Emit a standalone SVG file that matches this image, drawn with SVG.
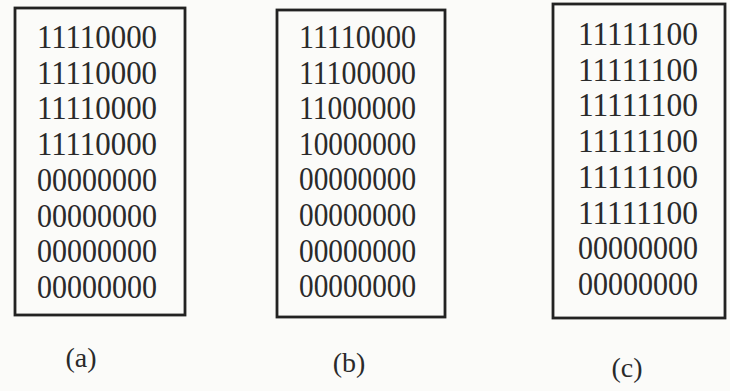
<svg xmlns="http://www.w3.org/2000/svg" width="730" height="391" viewBox="0 0 730 391">
<style>
.box{fill:none;stroke:#222;stroke-width:2.8}
.t{font-family:"Liberation Serif","Times New Roman",serif;font-size:33px;fill:#2a2a2a}
.lbl{font-family:"Liberation Serif","Times New Roman",serif;font-size:28px;fill:#2a2a2a;text-anchor:middle}
</style>
<rect width="730" height="391" fill="#fbfbf9"/>
<g id="matrix-a">
<rect class="box" x="15" y="8" width="170" height="307"/>
<text class="t" x="37" y="48" textLength="120" lengthAdjust="spacingAndGlyphs">11110000</text>
<text class="t" x="37" y="83.7" textLength="120" lengthAdjust="spacingAndGlyphs">11110000</text>
<text class="t" x="37" y="119.4" textLength="120" lengthAdjust="spacingAndGlyphs">11110000</text>
<text class="t" x="37" y="155.1" textLength="120" lengthAdjust="spacingAndGlyphs">11110000</text>
<text class="t" x="37" y="190.8" textLength="120" lengthAdjust="spacingAndGlyphs">00000000</text>
<text class="t" x="37" y="226.5" textLength="120" lengthAdjust="spacingAndGlyphs">00000000</text>
<text class="t" x="37" y="262.2" textLength="120" lengthAdjust="spacingAndGlyphs">00000000</text>
<text class="t" x="37" y="298" textLength="120" lengthAdjust="spacingAndGlyphs">00000000</text>
<text class="lbl" x="81" y="367">(a)</text>
</g>
<g id="matrix-b">
<rect class="box" x="277" y="10" width="168" height="307"/>
<text class="t" x="299" y="48" textLength="117" lengthAdjust="spacingAndGlyphs">11110000</text>
<text class="t" x="299" y="83.6" textLength="117" lengthAdjust="spacingAndGlyphs">11100000</text>
<text class="t" x="299" y="119.2" textLength="117" lengthAdjust="spacingAndGlyphs">11000000</text>
<text class="t" x="299" y="154.8" textLength="117" lengthAdjust="spacingAndGlyphs">10000000</text>
<text class="t" x="299" y="190.4" textLength="117" lengthAdjust="spacingAndGlyphs">00000000</text>
<text class="t" x="299" y="226" textLength="117" lengthAdjust="spacingAndGlyphs">00000000</text>
<text class="t" x="299" y="261.6" textLength="117" lengthAdjust="spacingAndGlyphs">00000000</text>
<text class="t" x="299" y="297" textLength="117" lengthAdjust="spacingAndGlyphs">00000000</text>
<text class="lbl" x="349" y="372">(b)</text>
</g>
<g id="matrix-c">
<rect class="box" x="553" y="4" width="172" height="314"/>
<text class="t" x="578" y="45" textLength="120" lengthAdjust="spacingAndGlyphs">11111100</text>
<text class="t" x="578" y="80.7" textLength="120" lengthAdjust="spacingAndGlyphs">11111100</text>
<text class="t" x="578" y="116.4" textLength="120" lengthAdjust="spacingAndGlyphs">11111100</text>
<text class="t" x="578" y="152.1" textLength="120" lengthAdjust="spacingAndGlyphs">11111100</text>
<text class="t" x="578" y="187.8" textLength="120" lengthAdjust="spacingAndGlyphs">11111100</text>
<text class="t" x="578" y="223.5" textLength="120" lengthAdjust="spacingAndGlyphs">11111100</text>
<text class="t" x="578" y="259.2" textLength="120" lengthAdjust="spacingAndGlyphs">00000000</text>
<text class="t" x="578" y="295" textLength="120" lengthAdjust="spacingAndGlyphs">00000000</text>
<text class="lbl" x="627" y="377">(c)</text>
</g>
<g id="connectors"/>
</svg>
